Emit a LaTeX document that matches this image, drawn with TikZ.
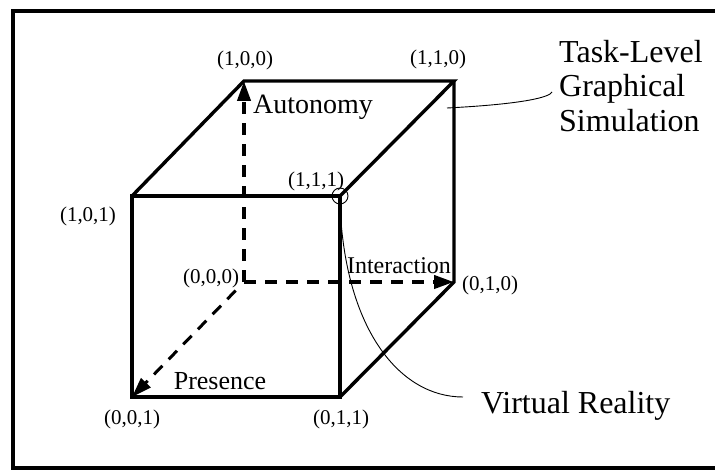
\documentclass[tikz,border=0pt]{standalone}
\usepackage{fontspec}
\setmainfont{Liberation Serif}
\usetikzlibrary{arrows.meta}
\begin{document}
\begin{tikzpicture}[x=1pt,y=-1pt,>={Triangle[length=20pt,width=13pt]}]
\tikzset{
    edge/.style={line width=3.4pt,line join=miter},
    axis/.style={->,line width=4pt,dash pattern=on 12pt off 9pt},
    vlabel/.style={font=\fontsize{21}{23}\selectfont,inner sep=0pt},
    axlabel/.style={font=\fontsize{26}{28}\selectfont,inner sep=0pt},
    biglabel/.style={font=\fontsize{32}{34.5}\selectfont,align=left,inner sep=0pt},
    pointer/.style={line width=0.9pt}
}
\clip (0,0) rectangle (715,470);
\draw[line width=4pt] (13,11) rectangle (724,468);

% cube corners
\coordinate (c000) at (244,282);
\coordinate (c100) at (244,81);
\coordinate (c010) at (454,282);
\coordinate (c110) at (454,81);
\coordinate (c001) at (132,397);
\coordinate (c101) at (132,196);
\coordinate (c011) at (340,397);
\coordinate (c111) at (340,196);

% axes
\draw[axis] (c000) -- (c100);
\draw[axis] (c000) -- (c010);
\draw[axis,line width=3pt,shorten <=12pt] (c000) -- (c001);

% edges
\draw[edge] (c101) -- (c111) -- (c011) -- (c001) -- cycle;
\draw[edge] (c101) -- (c100) -- (c110) -- (c111);
\draw[edge] (c110) -- (c010) -- (c011);

% corner labels
\node[vlabel] (l100) at (245,60) {(1,0,0)};
\node[vlabel] (l110) at (438,59) {(1,1,0)};
\node[vlabel] (l101) at (88,216) {(1,0,1)};
\node[vlabel] (l111) at (316,181) {(1,1,1)};
\node[vlabel] (l000) at (211,278) {(0,0,0)};
\node[vlabel] (l010) at (490,285) {(0,1,0)};
\node[vlabel] (l001) at (132,419) {(0,0,1)};
\node[vlabel] (l011) at (341,419) {(0,1,1)};

% axis names
\node[axlabel,font=\fontsize{28}{30}\selectfont] (auto) at (313,107) {Autonomy};
\node[axlabel,font=\fontsize{24}{26}\selectfont] (inter) at (399,266) {Interaction};
\node[axlabel] (pres) at (220,381) {Presence};

% callouts
\node[biglabel,anchor=north west] (task) at (559,40) {Task-Level\\Graphical\\Simulation};
\node[biglabel,anchor=base west] (vr) at (481,413) {Virtual Reality};
\node[draw,circle,minimum size=16pt,inner sep=0pt,line width=0.9pt] (ring) at (c111) {};
\coordinate (taskend) at (447,108);
\coordinate (vrend) at (463,397);
\draw[pointer] (taskend) .. controls (525,104) and (550,97) .. ([xshift=-7pt,yshift=-6pt]task.west);
\draw[pointer] (ring.south) .. controls (345,330) and (400,397) .. (vrend);
\end{tikzpicture}
\end{document}
